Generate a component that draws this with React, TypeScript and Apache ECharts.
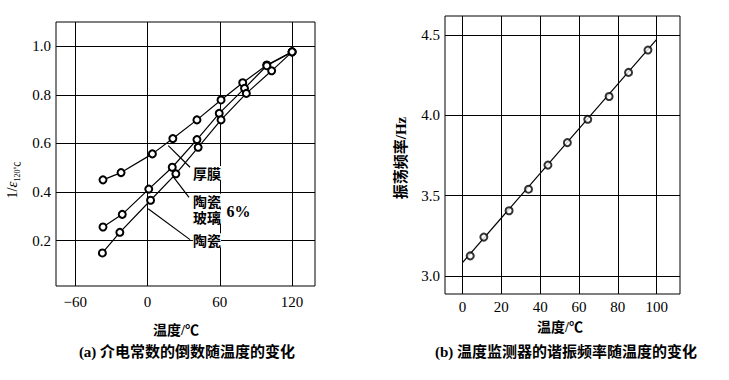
import React, { useEffect, useRef } from "react";
import * as echarts from "echarts";

// ---- Left chart (a) data ----
const leftXTicks = [-60, 0, 60, 120];
const leftYTicks = [0.2, 0.4, 0.6, 0.8, 1.0];
const thickFilmX = [-37, -22, 4, 21, 41, 61, 79, 99, 120];
const thickFilmY = [0.45, 0.48, 0.557, 0.62, 0.697, 0.779, 0.85, 0.923, 0.977];
const glassX = [-37, -21, 1, 20.5, 41, 59.5, 80.5, 99, 120];
const glassY = [0.256, 0.308, 0.412, 0.502, 0.616, 0.724, 0.827, 0.92, 0.977];
const ceramicX = [-37.5, -23, 2.5, 23.5, 42, 61, 82, 103, 120];
const ceramicY = [0.149, 0.234, 0.366, 0.475, 0.584, 0.697, 0.806, 0.899, 0.977];

// annotation labels (data coordinates of chart a)
const annoText = ["厚膜", "陶瓷", "玻璃", "6%", "陶瓷"];
const annoX = [37.75, 37.75, 37.75, 65.5, 37.75];
const annoY = [0.478, 0.364, 0.299, 0.32, 0.201];
// leader lines: [x1, y1, x2, y2]
const leaderThick = [17.2, 0.591, 35.25, 0.502];
const leaderGlass = [21.1, 0.464, 34.4, 0.378];
const leaderCeramic = [0.5, 0.331, 35.25, 0.204];

// ---- Right chart (b) data ----
const rightXTicks = [0, 20, 40, 60, 80, 100];
const rightYTicks = [3.0, 3.5, 4.0, 4.5];
const freqX = [4, 11, 24, 34, 44, 54, 64.5, 75.5, 85.5, 95.5];
const freqY = [3.125, 3.242, 3.406, 3.54, 3.69, 3.83, 3.975, 4.117, 4.267, 4.406];
const fitX = [0, 100];
const fitY = [3.083, 4.473];

const SERIF = "'Liberation Serif', 'Times New Roman', serif";
const MIX = "'Liberation Serif', 'Noto Sans CJK SC', serif";
const CJK = "'Noto Sans CJK SC', sans-serif";

const zip = (xs: number[], ys: number[]) => xs.map((x, i) => [x, ys[i]]);
const seg = (s: number[]) => [[s[0], s[1]], [s[2], s[3]]];

export default function App() {
  const ref = useRef<HTMLDivElement>(null);
  useEffect(() => {
    if (!ref.current) return;
    const chart = echarts.init(ref.current, undefined, { renderer: "svg" });
    const axisLabelBase = {
      color: "#000",
      fontFamily: SERIF,
      fontSize: 15,
    };
    const split = { show: true, lineStyle: { color: "#000", width: 1 } };
    const lineSeries = (xi: number, data: number[][], withSymbol: boolean) => ({
      type: "line",
      xAxisIndex: xi,
      yAxisIndex: xi,
      data,
      symbol: withSymbol ? "emptyCircle" : "none",
      symbolSize: 7,
      showSymbol: withSymbol,
      lineStyle: { color: "#000", width: 1.2 },
      itemStyle: { color: "#000", borderWidth: 1.3 },
      silent: true,
      z: 3,
    });
    chart.setOption({
      animation: false,
      backgroundColor: "#fff",
      grid: [
        { left: 56, top: 22, width: 259, height: 264, show: true, borderColor: "#000", borderWidth: 1, backgroundColor: "transparent" },
        { left: 445, top: 16, width: 235, height: 278, show: true, borderColor: "#000", borderWidth: 1, backgroundColor: "transparent" },
      ],
      xAxis: [
        {
          type: "value", gridIndex: 0, min: -76, max: 139,
          axisLine: { show: false },
          axisTick: { show: false, customValues: leftXTicks },
          axisLabel: { ...axisLabelBase, margin: 8, customValues: leftXTicks, formatter: (v: number) => String(v).replace("-", "\u2212") },
          splitLine: split,
        },
        {
          type: "value", gridIndex: 1, min: -9, max: 112,
          axisLine: { show: false },
          axisTick: { show: false, customValues: rightXTicks },
          axisLabel: { ...axisLabelBase, margin: 5, customValues: rightXTicks },
          splitLine: split,
        },
      ],
      yAxis: [
        {
          type: "value", gridIndex: 0, min: 0.013, max: 1.1,
          axisLine: { show: false },
          axisTick: { show: false, customValues: leftYTicks },
          axisLabel: { ...axisLabelBase, margin: 5, customValues: leftYTicks, formatter: (v: number) => v.toFixed(1) },
          splitLine: split,
        },
        {
          type: "value", gridIndex: 1, min: 2.888, max: 4.618,
          axisLine: { show: false },
          axisTick: { show: false, customValues: rightYTicks },
          axisLabel: { ...axisLabelBase, margin: 5, customValues: rightYTicks, formatter: (v: number) => v.toFixed(1) },
          splitLine: split,
        },
      ],
      series: [
        lineSeries(0, zip(thickFilmX, thickFilmY), true),
        lineSeries(0, zip(glassX, glassY), true),
        lineSeries(0, zip(ceramicX, ceramicY), true),
        lineSeries(0, seg(leaderThick), false),
        lineSeries(0, seg(leaderGlass), false),
        lineSeries(0, seg(leaderCeramic), false),
        {
          type: "scatter",
          xAxisIndex: 0,
          yAxisIndex: 0,
          symbolSize: 0,
          silent: true,
          z: 5,
          data: annoText.map((t, i) => ({
            value: [annoX[i], annoY[i]],
            name: t,
            label: {
              show: true,
              position: "right",
              distance: 0,
              formatter: t,
              color: "#000",
              opacity: 1,
              textBorderWidth: 0,
              fontFamily: t === "6%" ? SERIF : CJK,
              fontWeight: "bold",
              fontSize: t === "6%" ? 16 : 14,
              lineHeight: 14,
              backgroundColor: "#fff",
              padding: 0,
            },
          })),
        },
        {
          ...lineSeries(1, zip(fitX, fitY), false),
        },
        {
          type: "scatter",
          xAxisIndex: 1,
          yAxisIndex: 1,
          data: zip(freqX, freqY),
          symbol: "emptyCircle",
          symbolSize: 7,
          itemStyle: { color: "#000", borderWidth: 1.3 },
          silent: true,
          z: 4,
        },
      ],
      graphic: [
        {
          type: "text",
          x: 12,
          y: 180,
          rotation: Math.PI / 2,
          style: {
            text: "{a|1/}{e|ε}{s|120℃}",
            align: "center",
            verticalAlign: "middle",
            fill: "#000",
            rich: {
              a: { fontFamily: SERIF, fontSize: 14, lineHeight: 18, verticalAlign: "middle" },
              e: { fontFamily: SERIF, fontStyle: "italic", fontSize: 15, lineHeight: 18, verticalAlign: "middle" },
              s: { fontFamily: MIX, fontSize: 8, lineHeight: 18, verticalAlign: "bottom", padding: [6, 0, 0, 0] },
            },
          },
        },
        {
          type: "text",
          x: 401,
          y: 158,
          rotation: Math.PI / 2,
          style: {
            text: "振荡频率/Hz",
            align: "center",
            verticalAlign: "middle",
            fill: "#000",
            font: `bold 15px ${MIX}`,
          },
        },
        {
          type: "text", x: 176, y: 330,
          style: { text: "温度/℃", align: "center", verticalAlign: "middle", fill: "#000", font: `bold 14px ${MIX}` },
        },
        {
          type: "text", x: 560, y: 327,
          style: { text: "温度/℃", align: "center", verticalAlign: "middle", fill: "#000", font: `bold 14px ${MIX}` },
        },
        {
          type: "text", x: 187, y: 352,
          style: { text: "(a) 介电常数的倒数随温度的变化", align: "center", verticalAlign: "middle", fill: "#000", font: `bold 15px ${MIX}` },
        },
        {
          type: "text", x: 566, y: 352,
          style: { text: "(b) 温度监测器的谐振频率随温度的变化", align: "center", verticalAlign: "middle", fill: "#000", font: `bold 15px ${MIX}` },
        },
      ],
    });
    return () => chart.dispose();
  }, []);
  return (
    <div
      ref={ref}
      style={{ position: "fixed", left: 0, top: 0, width: 729, height: 380, background: "#fff" }}
    />
  );
}
